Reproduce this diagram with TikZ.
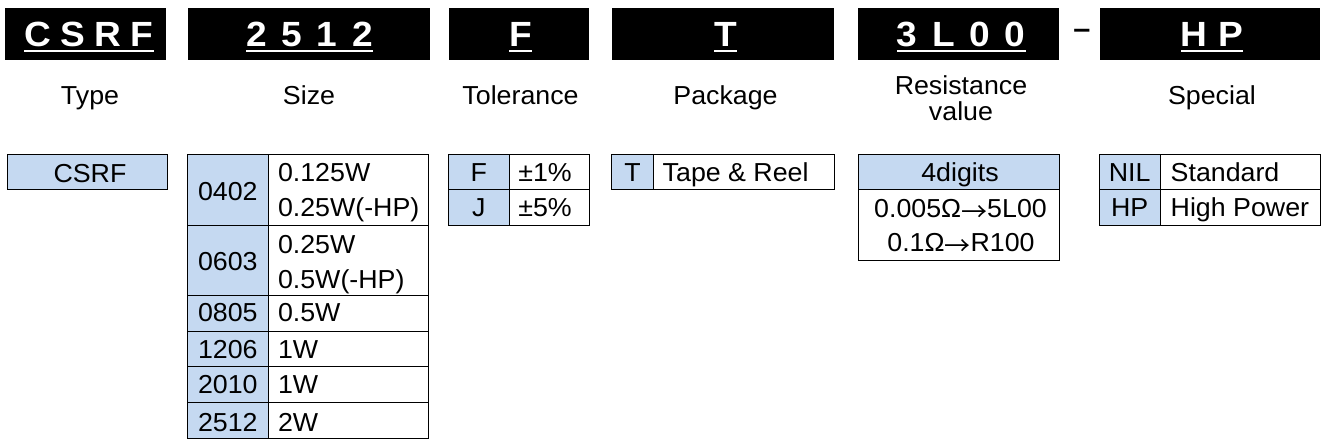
\documentclass[tikz,border=0pt]{standalone}
\usepackage{fontspec}
\setmainfont{Liberation Sans}
\newfontfamily\cellfont{Liberation Sans}[FakeStretch=1.03]
\newfontfamily\hdrfont{Liberation Sans}[FakeStretch=1.06]
\newfontfamily\cjk{Noto Sans CJK JP}
\newcommand\toarrow{\raisebox{-4pt}{\cjk →}}
\definecolor{keyblue}{RGB}{197,217,241}

\begin{document}
\begin{tikzpicture}[x=1pt,y=-1pt,
  every node/.style={inner sep=0pt, outer sep=0pt},
  hdrtext/.style={text=white, font=\hdrfont\bfseries\fontsize{35}{35}\selectfont\addfontfeature{LetterSpace=#1}},
  fieldname/.style={font=\cellfont\fontsize{26}{26}\selectfont},
  cell/.style={font=\cellfont\fontsize{26}{26}\selectfont},
  keycell/.style={fill=keyblue, draw=black, line width=1pt},
  valcell/.style={fill=white, draw=black, line width=1pt},
  uline/.style={white, line width=2.2pt}]
\useasboundingbox (0,0) rectangle (1326,444);

\fill (5,8) rectangle (166,60);
\fill (188,8) rectangle (430,60);
\fill (449,8) rectangle (589,60);
\fill (612,8) rectangle (834,60);
\fill (858,8) rectangle (1059,60);
\fill (1100,8) rectangle (1320,60);

\node[hdrtext=27, anchor=base] (tType) at (89,46.7) {CSRF};
\node[hdrtext=42, anchor=base] (tSize) at (309.5,46.7) {2512};
\node[hdrtext=38, anchor=base] (tTol) at (520.5,46.7) {F};
\node[hdrtext=38, anchor=base] (tPkg) at (725.5,46.7) {T};
\node[hdrtext=42, anchor=base] (tRes) at (961.3,46.7) {3L00};
\node[hdrtext=30, anchor=base] (tSpec) at (1212,46.7) {HP};
\node[font=\hdrfont\bfseries\fontsize{29}{29}\selectfont] (dash) at (1082,34) {–};

\draw[uline] ([yshift=-4.5pt]tType.base west) -- ([yshift=-4.5pt]tType.base east);
\draw[uline] ([yshift=-4.5pt]tSize.base west) -- ([yshift=-4.5pt]tSize.base east);
\draw[uline] ([yshift=-4.5pt]tTol.base west) -- ([yshift=-4.5pt]tTol.base east);
\draw[uline] ([yshift=-4.5pt]tPkg.base west) -- ([yshift=-4.5pt]tPkg.base east);
\draw[uline] ([yshift=-4.5pt]tRes.base west) -- ([yshift=-4.5pt]tRes.base east);
\draw[uline] ([yshift=-4.5pt]tSpec.base west) -- ([yshift=-4.5pt]tSpec.base east);

\node[fieldname, anchor=base] (nType) at (90,104) {Type};
\node[fieldname, anchor=base] (nSize) at (309,104) {Size};
\node[fieldname, anchor=base] (nTol) at (520.5,104) {Tolerance};
\node[fieldname, anchor=base] (nPkg) at (725.5,104) {Package};
\node[fieldname, anchor=base] (nRes) at (961,95) {Resistance};
\node[fieldname, anchor=base] (nRes2) at (961,121) {value};
\node[fieldname, anchor=base] (nSpec) at (1212,104) {Special};

\filldraw[keycell] (7,154.3) rectangle (167,189.3);
\node[cell, anchor=base] (kCSRF) at (90,182.7) {CSRF};

\filldraw[keycell] (187.3,154.3) rectangle (268.3,225);
\filldraw[valcell] (268.3,154.3) rectangle (428.3,225);
\filldraw[keycell] (187.3,225) rectangle (268.3,295);
\filldraw[valcell] (268.3,225) rectangle (428.3,295);
\filldraw[keycell] (187.3,295) rectangle (268.3,331);
\filldraw[valcell] (268.3,295) rectangle (428.3,331);
\filldraw[keycell] (187.3,331) rectangle (268.3,366.3);
\filldraw[valcell] (268.3,331) rectangle (428.3,366.3);
\filldraw[keycell] (187.3,366.3) rectangle (268.3,402.7);
\filldraw[valcell] (268.3,366.3) rectangle (428.3,402.7);
\filldraw[keycell] (187.3,402.7) rectangle (268.3,438.3);
\filldraw[valcell] (268.3,402.7) rectangle (428.3,438.3);
\node[cell, anchor=base] (k0402) at (227.8,200) {0402};
\node[cell, anchor=base west] (v0402a) at (278,181.7) {0.125W};
\node[cell, anchor=base west] (v0402b) at (278,216.7) {0.25W(-HP)};
\node[cell, anchor=base] (k0603) at (227.8,270) {0603};
\node[cell, anchor=base west] (v0603a) at (278,253) {0.25W};
\node[cell, anchor=base west] (v0603b) at (278,288) {0.5W(-HP)};
\node[cell, anchor=base] (k0805) at (227.8,321.7) {0805};
\node[cell, anchor=base west] (v0805) at (278,321.7) {0.5W};
\node[cell, anchor=base] (k1206) at (227.8,358.3) {1206};
\node[cell, anchor=base west] (v1206) at (278,358.3) {1W};
\node[cell, anchor=base] (k2010) at (227.8,393.3) {2010};
\node[cell, anchor=base west] (v2010) at (278,393.3) {1W};
\node[cell, anchor=base] (k2512) at (227.8,431) {2512};
\node[cell, anchor=base west] (v2512) at (278,431) {2W};

\filldraw[keycell] (448.3,154.3) rectangle (509.3,189.3);
\filldraw[valcell] (509.3,154.3) rectangle (589.3,189.3);
\filldraw[keycell] (448.3,189.3) rectangle (509.3,225);
\filldraw[valcell] (509.3,189.3) rectangle (589.3,225);
\node[cell, anchor=base] (kF) at (478.8,181.7) {F};
\node[cell, anchor=base west] (vF) at (518.3,181.7) {±1\%};
\node[cell, anchor=base] (kJ) at (478.8,216.7) {J};
\node[cell, anchor=base west] (vJ) at (518.3,216.7) {±5\%};

\filldraw[keycell] (611.7,154.3) rectangle (653.3,189.3);
\filldraw[valcell] (653.3,154.3) rectangle (834.3,189.3);
\node[cell, anchor=base] (kT) at (632.5,181.7) {T};
\node[cell, anchor=base west] (vT) at (662.7,181.7) {Tape \& Reel};

\filldraw[keycell] (858.3,154.3) rectangle (1059.3,189.3);
\filldraw[valcell] (858.3,189.3) rectangle (1059.3,260);
\node[cell, anchor=base] (kDig) at (960,181.7) {4digits};
\node[cell, anchor=base] (vDig1) at (960.5,217.7) {0.005Ω\toarrow5L00};
\node[cell, anchor=base] (vDig2) at (961,251) {0.1Ω\toarrow R100};

\filldraw[keycell] (1099.3,154.3) rectangle (1160,189.3);
\filldraw[valcell] (1160,154.3) rectangle (1320,189.3);
\filldraw[keycell] (1099.3,189.3) rectangle (1160,225);
\filldraw[valcell] (1160,189.3) rectangle (1320,225);
\node[cell, anchor=base] (kNIL) at (1129.7,181.7) {NIL};
\node[cell, anchor=base west] (vNIL) at (1170.7,181.7) {Standard};
\node[cell, anchor=base] (kHP) at (1129.7,216.7) {HP};
\node[cell, anchor=base west] (vHP) at (1170.7,216.7) {High Power};
\end{tikzpicture}
\end{document}
